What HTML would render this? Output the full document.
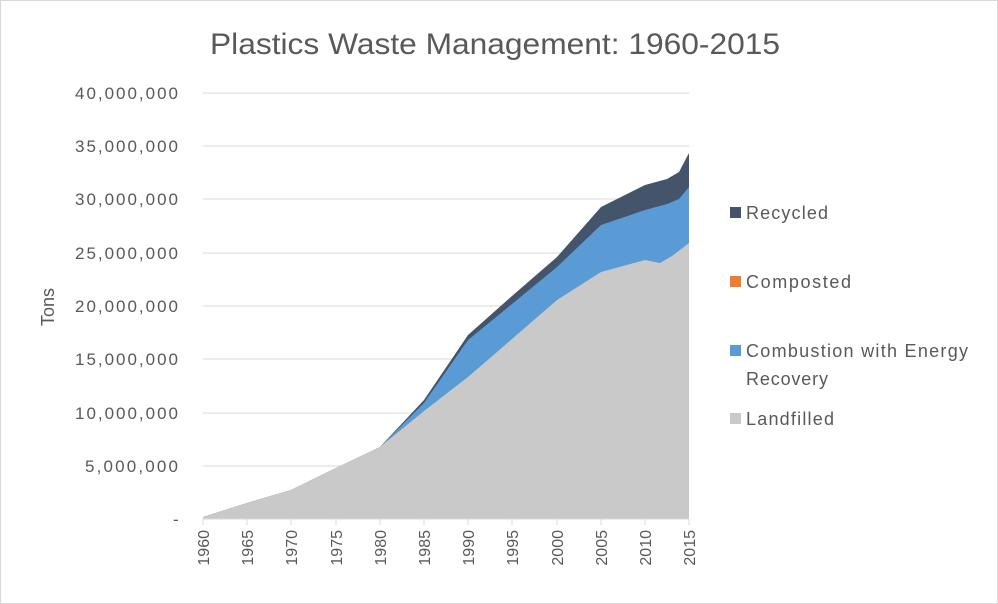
<!DOCTYPE html>
<html><head><meta charset="utf-8"><style>
body{margin:0;background:#fff}
svg{display:block;font-family:"Liberation Sans",sans-serif}
</style></head><body>
<svg width="998" height="604" viewBox="0 0 998 604">
<rect x="0.5" y="0.5" width="997" height="603" fill="#fff" stroke="#d9d9d9"/>
<text x="210" y="54" font-size="30" fill="#595959" textLength="570" lengthAdjust="spacingAndGlyphs">Plastics Waste Management: 1960-2015</text>
<g stroke="#d9d9d9" stroke-width="1">
<line x1="203" x2="689" y1="93" y2="93"/><line x1="203" x2="689" y1="146" y2="146"/>
<line x1="203" x2="689" y1="199" y2="199"/><line x1="203" x2="689" y1="253" y2="253"/>
<line x1="203" x2="689" y1="306" y2="306"/><line x1="203" x2="689" y1="359" y2="359"/>
<line x1="203" x2="689" y1="413" y2="413"/><line x1="203" x2="689" y1="466" y2="466"/>
</g>
<g font-size="17" fill="#595959" lengthAdjust="spacingAndGlyphs">
<text x="75" y="99" textLength="103">40,000,000</text><text x="75" y="152" textLength="103">35,000,000</text>
<text x="75" y="205" textLength="103">30,000,000</text><text x="75" y="259" textLength="103">25,000,000</text>
<text x="75" y="312" textLength="103">20,000,000</text><text x="75" y="365" textLength="103">15,000,000</text>
<text x="75" y="419" textLength="103">10,000,000</text><text x="85" y="472" textLength="93">5,000,000</text>
<text x="173" y="525">-</text>
</g>
<text transform="translate(54,307) rotate(-90)" text-anchor="middle" font-size="18" fill="#595959">Tons</text>
<polygon fill="#44546a" points="203,519 203,517 247,503 291,490 336,468 380,447 424,400 468,335 512,296 557,257 601,207 645,185 667,179 679,172 689,153 689,519"/>
<polygon fill="#5b9bd5" points="203,519 203,517 247,503 291,490 336,468 380,447 424,403 468,340 512,304 557,267 601,225 645,210 667,204 679,199 689,187 689,519"/>
<polygon fill="#c9c9c9" points="203,519 203,517 247,503 291,490 336,468 380,447 424,411 468,377 512,339 557,300 601,272 645,260 660,263 672,256 689,243 689,519"/>
<line x1="203" x2="689" y1="519" y2="519" stroke="#d9d9d9"/>
<g stroke="#d9d9d9"><line x1="203" x2="203" y1="519" y2="525"/><line x1="247" x2="247" y1="519" y2="525"/><line x1="291" x2="291" y1="519" y2="525"/><line x1="336" x2="336" y1="519" y2="525"/><line x1="380" x2="380" y1="519" y2="525"/><line x1="424" x2="424" y1="519" y2="525"/><line x1="468" x2="468" y1="519" y2="525"/><line x1="512" x2="512" y1="519" y2="525"/><line x1="557" x2="557" y1="519" y2="525"/><line x1="601" x2="601" y1="519" y2="525"/><line x1="645" x2="645" y1="519" y2="525"/><line x1="689" x2="689" y1="519" y2="525"/></g>
<g font-size="16" fill="#595959" text-anchor="end">
<text transform="translate(209,530) rotate(-90)">1960</text><text transform="translate(253,530) rotate(-90)">1965</text>
<text transform="translate(297,530) rotate(-90)">1970</text><text transform="translate(342,530) rotate(-90)">1975</text>
<text transform="translate(386,530) rotate(-90)">1980</text><text transform="translate(430,530) rotate(-90)">1985</text>
<text transform="translate(474,530) rotate(-90)">1990</text><text transform="translate(518,530) rotate(-90)">1995</text>
<text transform="translate(563,530) rotate(-90)">2000</text><text transform="translate(607,530) rotate(-90)">2005</text>
<text transform="translate(651,530) rotate(-90)">2010</text><text transform="translate(695,530) rotate(-90)">2015</text>
</g>
<g font-size="18" fill="#595959" lengthAdjust="spacingAndGlyphs">
<rect x="730" y="207" width="11" height="11" fill="#44546a"/><text x="746" y="219" textLength="82">Recycled</text>
<rect x="730" y="276" width="11" height="11" fill="#ed7d31"/><text x="746" y="288" textLength="105">Composted</text>
<rect x="730" y="345" width="11" height="11" fill="#5b9bd5"/><text x="746" y="357" textLength="222">Combustion with Energy</text><text x="746" y="385" textLength="82">Recovery</text>
<rect x="730" y="413" width="11" height="11" fill="#c9c9c9"/><text x="746" y="425" textLength="88">Landfilled</text>
</g>
</svg>
</body></html>
